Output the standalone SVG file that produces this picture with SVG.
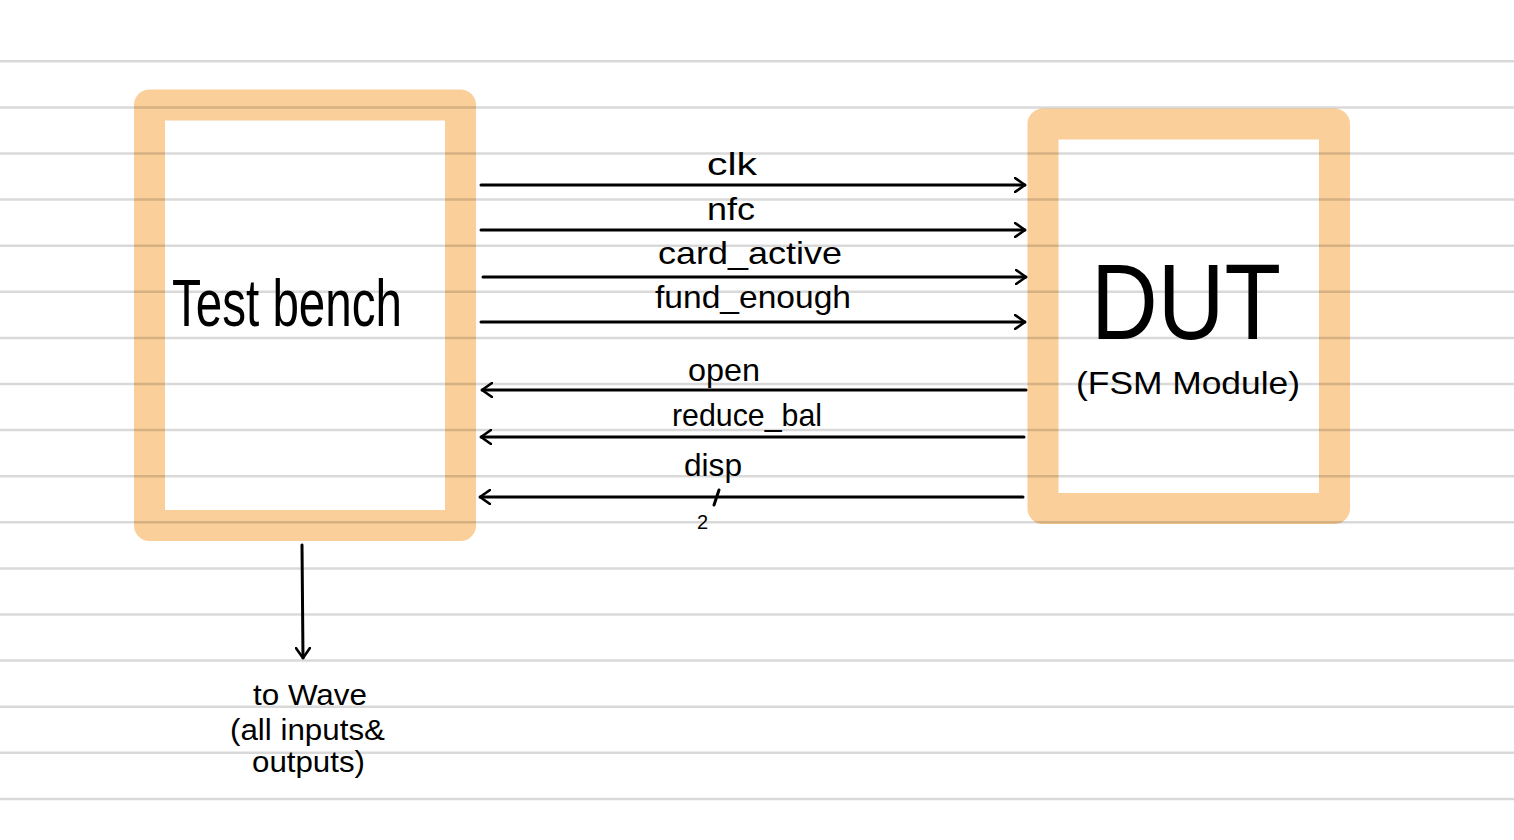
<svg xmlns="http://www.w3.org/2000/svg" width="1514" height="840" viewBox="0 0 1514 840">
<defs>
<style>
.rule{stroke:#000;stroke-opacity:0.15;stroke-width:2.5}
.box{fill:#fff;stroke:#facf99;stroke-width:31;stroke-linejoin:round}
.wire{stroke:#000;stroke-width:3;fill:none;stroke-linecap:round}
.hw{font-family:"Liberation Sans",Arial,sans-serif;fill:#000}
.lbl{font-size:32px}
</style>
<marker id="ah" viewBox="0 0 12 16" refX="11" refY="8" markerWidth="12" markerHeight="16" markerUnits="userSpaceOnUse" orient="auto">
<path d="M1,1 L11,8 L1,15" fill="none" stroke="#000" stroke-width="2.6" stroke-linecap="round" stroke-linejoin="round"/>
</marker>
</defs>
<rect width="1514" height="840" fill="#fff"/>
<g id="testbench">
<rect class="box" x="149.5" y="105" width="311" height="420.5"/>
<text class="hw" x="172" y="326" font-size="66" textLength="230" lengthAdjust="spacingAndGlyphs">Test bench</text>
</g>
<g id="dut">
<rect class="box" x="1043" y="124" width="291.5" height="384.5"/>
<text class="hw" x="1091" y="339" font-size="108" textLength="190" lengthAdjust="spacingAndGlyphs">DUT</text>
<text class="hw" x="1076" y="394" font-size="32" textLength="224" lengthAdjust="spacingAndGlyphs">(FSM  Module)</text>
</g>
<g id="rules">
<line class="rule" x1="0" y1="61.3" x2="1514" y2="61.3"/>
<line class="rule" x1="0" y1="107.4" x2="1514" y2="107.4"/>
<line class="rule" x1="0" y1="153.5" x2="1514" y2="153.5"/>
<line class="rule" x1="0" y1="199.6" x2="1514" y2="199.6"/>
<line class="rule" x1="0" y1="245.7" x2="1514" y2="245.7"/>
<line class="rule" x1="0" y1="291.8" x2="1514" y2="291.8"/>
<line class="rule" x1="0" y1="337.9" x2="1514" y2="337.9"/>
<line class="rule" x1="0" y1="384" x2="1514" y2="384"/>
<line class="rule" x1="0" y1="430.1" x2="1514" y2="430.1"/>
<line class="rule" x1="0" y1="476.2" x2="1514" y2="476.2"/>
<line class="rule" x1="0" y1="522.3" x2="1514" y2="522.3"/>
<line class="rule" x1="0" y1="568.4" x2="1514" y2="568.4"/>
<line class="rule" x1="0" y1="614.5" x2="1514" y2="614.5"/>
<line class="rule" x1="0" y1="660.6" x2="1514" y2="660.6"/>
<line class="rule" x1="0" y1="706.7" x2="1514" y2="706.7"/>
<line class="rule" x1="0" y1="752.8" x2="1514" y2="752.8"/>
<line class="rule" x1="0" y1="798.9" x2="1514" y2="798.9"/>
</g>
<g id="connectors">
<line class="wire" x1="481" y1="185" x2="1025" y2="185" marker-end="url(#ah)"/>
<line class="wire" x1="481" y1="230" x2="1025" y2="230" marker-end="url(#ah)"/>
<line class="wire" x1="483" y1="277" x2="1026" y2="277" marker-end="url(#ah)"/>
<line class="wire" x1="481" y1="322" x2="1025" y2="322" marker-end="url(#ah)"/>
<line class="wire" x1="1026" y1="390" x2="482" y2="390" marker-end="url(#ah)"/>
<line class="wire" x1="1024" y1="437" x2="481" y2="437" marker-end="url(#ah)"/>
<line class="wire" x1="1023" y1="497" x2="480" y2="497" marker-end="url(#ah)"/>
<line class="wire" x1="719" y1="490" x2="714" y2="505" stroke-width="2.5"/>
<line class="wire" x1="302" y1="545" x2="303" y2="658" marker-end="url(#ah)"/>
<text class="hw lbl" x="707" y="175" textLength="50" lengthAdjust="spacingAndGlyphs">clk</text>
<text class="hw lbl" x="707" y="220" textLength="48" lengthAdjust="spacingAndGlyphs">nfc</text>
<text class="hw lbl" x="658" y="264" textLength="184" lengthAdjust="spacingAndGlyphs">card_active</text>
<text class="hw lbl" x="655" y="308" textLength="196" lengthAdjust="spacingAndGlyphs">fund_enough</text>
<text class="hw lbl" x="688" y="381" textLength="72" lengthAdjust="spacingAndGlyphs">open</text>
<text class="hw lbl" x="672" y="426" textLength="150" lengthAdjust="spacingAndGlyphs">reduce_bal</text>
<text class="hw lbl" x="684" y="476" textLength="58" lengthAdjust="spacingAndGlyphs">disp</text>
<text class="hw" x="697" y="529" font-size="20">2</text>
<text class="hw" x="253" y="705" font-size="30" textLength="114" lengthAdjust="spacingAndGlyphs">to  Wave</text>
<text class="hw" x="230" y="740" font-size="30" textLength="155" lengthAdjust="spacingAndGlyphs">(all  inputs&amp;</text>
<text class="hw" x="252" y="772" font-size="30" textLength="113" lengthAdjust="spacingAndGlyphs">outputs)</text>
</g>
</svg>
